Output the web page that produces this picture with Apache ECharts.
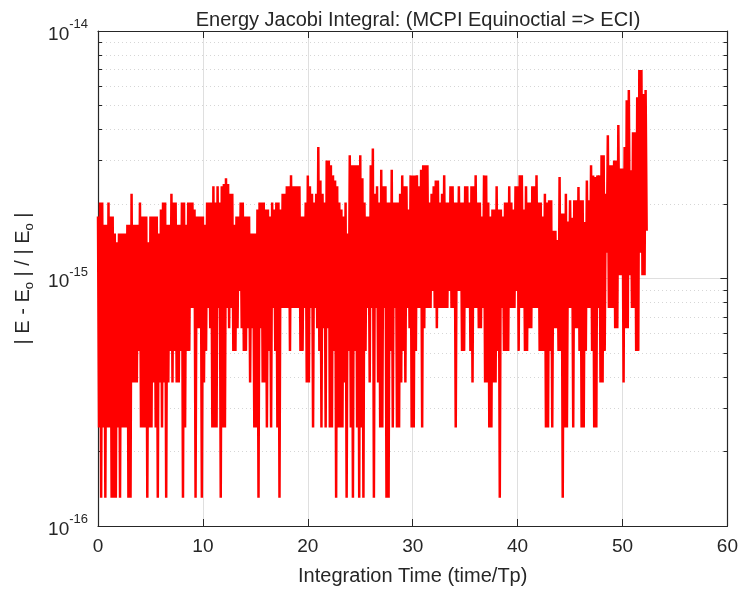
<!DOCTYPE html>
<html><head><meta charset="utf-8">
<script src="https://cdn.jsdelivr.net/npm/echarts@6/dist/echarts.min.js"></script>
<style>html,body{margin:0;padding:0;background:#fff}#c{width:741px;height:592px}</style>
</head><body><div id="c"></div>
<script>
// ---- data ----
const titleText = 'Energy Jacobi Integral: (MCPI Equinoctial => ECI)';
const xName = 'Integration Time (time/Tp)';
const xMin = 0, xMax = 60, xInterval = 10;
// y values are expressed in units of 1e-16 ; axis spans 10^-16 .. 10^-14
const yMin = 1, yMax = 100;
const yExpOffset = -16;
// sample spacing in time/Tp units
const timeStep = 0.1;
// |E-Eo|/|Eo| in units of 1e-16, one row per time unit (t = 0..52.3)
const relErr = [
17.8,2.5,20.3,1.3,20.3,2.5,16.5,1.3,16.5,2.5,
20.3,2.5,17.8,1.3,17.8,1.3,15.2,1.3,14,2.5,
15.2,1.3,15.2,2.5,15.2,2.5,15.2,2.5,16.5,1.3,
16.5,1.3,22,3.8,16.5,3.8,16.5,3.8,16.5,5.1,
20.3,2.5,17.8,2.5,17.8,2.5,17.8,1.3,14,2.5,
17.8,2.5,17.8,3.8,17.8,2.5,17.8,1.3,15.2,3.8,
19,2.5,20.3,3.8,20.3,1.3,16.5,3.8,16.5,5.1,
22,3.8,20.3,5.1,20.3,3.8,16.5,3.8,16.5,5.1,
20.3,1.3,20.3,2.5,16.5,5.1,20.3,5.1,20.3,7.6,
20.3,7.6,19,1.3,17.8,6.3,17.8,6.3,17.8,1.3,
17.8,3.8,16.5,5.1,20.3,7.6,20.3,6.3,20.3,2.5,
23.6,2.5,20.3,2.5,23.6,7.6,20.3,1.3,23.6,2.5,
24.1,2.5,25.4,7.6,24.1,6.3,22,7.6,22,5.1,
16.5,5.1,17.8,6.3,17.8,8.9,20.3,6.3,20.3,5.1,
17.8,5.1,17.8,6.3,17.8,3.8,15.2,6.3,15.2,2.5,
15.2,2.5,19,1.3,20.3,6.3,20.3,3.8,20.3,3.8,
19,2.5,19,5.1,17.8,2.5,20.3,7.6,19,5.1,
20.3,2.5,20.3,1.3,19,7.6,22,7.6,22,7.6,
23.6,7.6,23.6,5.1,26.1,7.6,23.6,7.6,23.6,7.6,
23.6,7.6,23.6,5.1,17.8,5.1,17.8,7.6,20.3,3.8,
26.1,3.8,23.6,7.6,22,2.5,20.3,7.6,22,6.3,
34,5.1,24.9,2.5,22,6.3,20.3,2.5,30,6.3,
30,2.5,28.7,2.5,26.1,5.1,24.9,1.3,23.6,2.5,
20.3,2.5,19,2.5,17.8,3.8,20.3,1.3,15.2,5.1,
31.5,2.5,28.7,1.3,28.7,5.1,28.7,2.5,28.7,1.3,
31.5,2.5,25.4,1.3,20.3,5.1,17.8,7.6,17.8,3.8,
28.7,7.6,33.5,1.3,22,7.6,23.6,3.8,20.3,2.5,
27.5,2.5,23.6,7.6,23.6,1.3,20.3,1.3,20.3,5.1,
27.5,2.5,20.3,7.6,20.3,2.5,20.3,2.5,22,3.8,
26.1,5.1,23.6,3.8,23.6,7.6,19,6.3,26.1,2.5,
26.1,2.5,26.1,5.1,26.1,7.6,23.6,7.6,27.5,2.5,
28.7,6.3,28.7,7.6,28.7,7.6,20.3,7.6,22,8.9,
23.6,7.6,24.9,6.3,24.9,7.6,20.3,7.6,22,7.6,
26.1,7.6,20.3,7.6,20.3,8.9,23.6,7.6,23.6,7.6,
20.3,2.5,20.3,8.9,23.6,8.9,20.3,5.1,20.3,5.1,
23.6,7.6,23.6,7.6,20.3,5.1,23.6,3.8,23.6,7.6,
26.1,7.6,20.3,6.3,20.3,6.3,17.8,7.6,26.1,3.8,
26.1,3.8,20.3,2.5,17.8,2.5,19,3.8,19,3.8,
23.6,5.1,19,1.3,19,7.6,17.8,5.1,20.3,5.1,
20.3,5.1,23.6,7.6,20.3,7.6,19,7.6,23.6,8.9,
23.6,5.1,26.1,7.6,26.1,7.6,19,5.1,23.6,5.1,
20.3,6.3,20.3,6.3,23.6,7.6,23.6,7.6,26.1,7.6,
20.3,5.1,20.3,5.1,17.8,5.1,22,2.5,20.3,2.5,
20.7,5.1,20.7,2.5,15.6,6.3,15.6,6.3,14.3,5.1,
25.7,5.1,18.3,1.3,18.3,2.5,22,2.5,17,7.6,
20.7,7.6,17.6,2.5,20.7,6.3,20.7,6.3,23.4,5.1,
20.7,2.5,20.7,2.5,16.9,5.1,24.9,7.6,20.7,7.6,
28.7,5.1,26.1,2.5,25.7,2.5,26.1,7.6,26.1,3.8,
31.5,3.8,31.5,5.1,22,12.7,37.9,7.6,28.7,7.6,
28.7,7.6,30,6.3,30,6.3,41.7,10.3,27.8,10.3,
27.8,3.8,34,6.3,52.5,6.3,57.7,10.3,27.4,7.6,
39,7.6,39,5.1,54,5.1,69.5,12.7,69.5,10.3,
55.7,10.3,57.7,15.6
];

// ---- chart ----
const FONT = '"Liberation Sans", Arial, Helvetica, sans-serif';
const INK = '#262626';
const seriesData = relErr.map((v, i) => [Number((i * timeStep).toFixed(2)), v]);

const yLabelFmt = function (v) {
  const e = Math.round(Math.log10(v)) + yExpOffset;
  return '{b|10}{s|' + e + '}';
};

const chart = echarts.init(document.getElementById('c'), null, {renderer: 'canvas'});
chart.setOption({
  animation: false,
  backgroundColor: '#ffffff',
  textStyle: {fontFamily: FONT},
  title: {
    text: titleText, left: 413, top: 5, textAlign: 'center',
    textStyle: {fontFamily: FONT, fontSize: 20, fontWeight: 'normal', color: INK}
  },
  grid: {left: 98, right: 13, top: 31, bottom: 66, containLabel: false},
  xAxis: [{
    type: 'value', min: xMin, max: xMax, interval: xInterval, position: 'bottom',
    name: xName, nameLocation: 'middle', nameGap: 40,
    nameTextStyle: {fontFamily: FONT, fontSize: 20, color: INK},
    axisLine: {show: true, lineStyle: {color: INK, width: 1.2}},
    axisTick: {show: true, inside: true, length: 7, lineStyle: {color: INK}},
    axisLabel: {fontFamily: FONT, fontSize: 19, color: INK, margin: 11},
    splitLine: {show: true, lineStyle: {color: '#dfdfdf', width: 1}}
  }, {
    type: 'value', min: xMin, max: xMax, interval: xInterval, position: 'top',
    axisLine: {show: true, onZero: false, lineStyle: {color: INK, width: 1.2}},
    axisTick: {show: true, inside: true, length: 7, lineStyle: {color: INK}},
    axisLabel: {show: false}, splitLine: {show: false}
  }],
  yAxis: [{
    type: 'log', logBase: 10, min: yMin, max: yMax, position: 'left',
    name: '| E - E{sub|o} | / | E{sub|o} |', nameLocation: 'middle', nameGap: 62, nameRotate: 90,
    nameTextStyle: {fontFamily: FONT, fontSize: 20, color: INK, lineHeight: 26,
      rich: {sub: {fontFamily: FONT, fontSize: 13, color: INK, verticalAlign: 'bottom', lineHeight: 26}}},
    axisLine: {show: true, lineStyle: {color: INK, width: 1.2}},
    axisTick: {show: true, inside: true, length: 7, lineStyle: {color: INK}},
    minorTick: {show: true, splitNumber: 9, length: 4, lineStyle: {color: INK}},
    minorSplitLine: {show: true, lineStyle: {color: '#d6d6d6', width: 1, type: [1, 3]}},
    splitLine: {show: true, lineStyle: {color: '#dfdfdf', width: 1}},
    axisLabel: {
      formatter: yLabelFmt, margin: 10,
      rich: {
        b: {fontFamily: FONT, fontSize: 19, color: INK, lineHeight: 26, verticalAlign: 'bottom'},
        s: {fontFamily: FONT, fontSize: 13, color: INK, lineHeight: 26, verticalAlign: 'top'}
      }
    }
  }, {
    type: 'log', logBase: 10, min: yMin, max: yMax, position: 'right',
    axisLine: {show: true, onZero: false, lineStyle: {color: INK, width: 1.2}},
    axisTick: {show: true, inside: true, length: 7, lineStyle: {color: INK}},
    minorTick: {show: true, splitNumber: 9, length: 4, lineStyle: {color: INK}},
    axisLabel: {show: false}, splitLine: {show: false}
  }],
  series: [{
    type: 'line', xAxisIndex: 0, yAxisIndex: 0, data: seriesData,
    showSymbol: false, symbol: 'none', sampling: null, smooth: false,
    lineStyle: {color: '#ff0000', width: 2.5}, z: 5
  }]
});
</script></body></html>
